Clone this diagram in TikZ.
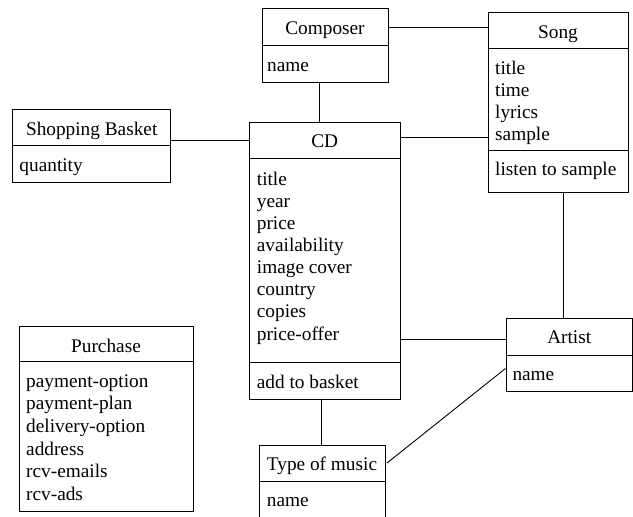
\documentclass[tikz,border=0pt]{standalone}
\usepackage{fontspec}
\setmainfont{Liberation Serif}
\newcommand\umlfs{\fontsize{19.3}{22}\selectfont}
\tikzset{
  cls/.style={draw, line width=1pt, inner sep=0pt, rectangle},
  divl/.style={line width=1pt},
  ttl/.style={anchor=base, inner sep=0pt, font=\umlfs},
  attr/.style={anchor=base west, inner sep=0pt, font=\umlfs},
  link/.style={line width=0.9pt},
}
\begin{document}
\begin{tikzpicture}[x=1pt, y={(0pt,-1pt)}]
\clip (0,0) rectangle (633,517);
\useasboundingbox (0,0) rectangle (633,517);

% Composer
\node[cls, minimum width=126pt, minimum height=74pt] (comp) at (325,45) {};
\draw[divl] ([yshift=-38pt]comp.north west) -- ([yshift=-38pt]comp.north east);
\node[ttl] (compT) at (325,34.5) {Composer};
\node[attr] (compA) at (267,71.7) {name};

% Song
\node[cls, minimum width=140pt, minimum height=180pt] (song) at (558,102) {};
\draw[divl] ([yshift=-37pt]song.north west) -- ([yshift=-37pt]song.north east);
\draw[divl] ([yshift=-139pt]song.north west) -- ([yshift=-139pt]song.north east);
\node[ttl] (songT) at (558,38.3) {Song};
\foreach \t [count=\i from 0] in {title,time,lyrics,sample}
  \node[attr] (songA\i) at (495,{74+\i*22.2}) {\t};
\node[attr] (songO) at (495,175) {listen to sample};

% Shopping Basket
\node[cls, minimum width=158pt, minimum height=73.7pt] (sb) at (91.7,145.85) {};
\draw[divl] ([yshift=-36.7pt]sb.north west) -- ([yshift=-36.7pt]sb.north east);
\node[ttl] (sbT) at (91.7,135) {Shopping Basket};
\node[attr] (sbA) at (19.3,171.7) {quantity};

% CD
\node[cls, minimum width=150.5pt, minimum height=277pt] (cd) at (324.75,260.5) {};
\draw[divl] ([yshift=-37pt]cd.north west) -- ([yshift=-37pt]cd.north east);
\draw[divl] ([yshift=-240.7pt]cd.north west) -- ([yshift=-240.7pt]cd.north east);
\node[ttl] (cdT) at (324.75,147.3) {CD};
\foreach \t [count=\i from 0] in {title,year,price,availability,image cover,country,copies,price-offer}
  \node[attr] (cdA\i) at (256.7,{185+\i*22.15}) {\t};
\node[attr] (cdO) at (256.7,388.3) {add to basket};

% Purchase
\node[cls, minimum width=174pt, minimum height=185.7pt] (pur) at (106,418.85) {};
\draw[divl] ([yshift=-36.3pt]pur.north west) -- ([yshift=-36.3pt]pur.north east);
\node[ttl] (purT) at (106,352.3) {Purchase};
\foreach \t [count=\i from 0] in {payment-option,payment-plan,delivery-option,address,rcv-emails,rcv-ads}
  \node[attr] (purA\i) at (26,{387.3+\i*22.6}) {\t};

% Artist
\node[cls, minimum width=126.5pt, minimum height=73.7pt] (art) at (569.25,354.85) {};
\draw[divl] ([yshift=-37.7pt]art.north west) -- ([yshift=-37.7pt]art.north east);
\node[ttl] (artT) at (569.25,343.3) {Artist};
\node[attr] (artA) at (512.3,380) {name};

% Type of music
\node[cls, minimum width=126pt, minimum height=84.5pt] (tom) at (322,487.75) {};
\draw[divl] ([yshift=-36.2pt]tom.north west) -- ([yshift=-36.2pt]tom.north east);
\node[ttl] (tomT) at (322,470) {Type of music};
\node[attr] (tomA) at (266.7,506) {name};

% connectors
\coordinate (p1) at ([yshift=-20pt]comp.north east);
\draw[link] (p1) -- (p1 -| song.west);
\coordinate (p2) at ([xshift=-6pt]comp.south);
\draw[link] (p2) -- (p2 |- cd.north);
\coordinate (p3) at ([yshift=5.85pt]sb.east);
\draw[link] (p3) -- (p3 -| cd.west);
\coordinate (p4) at ([yshift=-16pt]cd.north east);
\draw[link] (p4) -- (p4 -| song.west);
\coordinate (p5) at ([xshift=5.5pt]song.south);
\draw[link] (p5) -- (p5 |- art.north);
\coordinate (p6) at ([yshift=-21.5pt]art.north west);
\draw[link] (p6 -| cd.east) -- (p6);
\coordinate (p7) at ([xshift=-0.3pt]tom.north);
\draw[link] (p7 |- cd.south) -- (p7);
\draw[link] ([shift={(1.5pt,-18pt)}]tom.north east) -- ([yshift=-51pt]art.north west);
\end{tikzpicture}
\end{document}
